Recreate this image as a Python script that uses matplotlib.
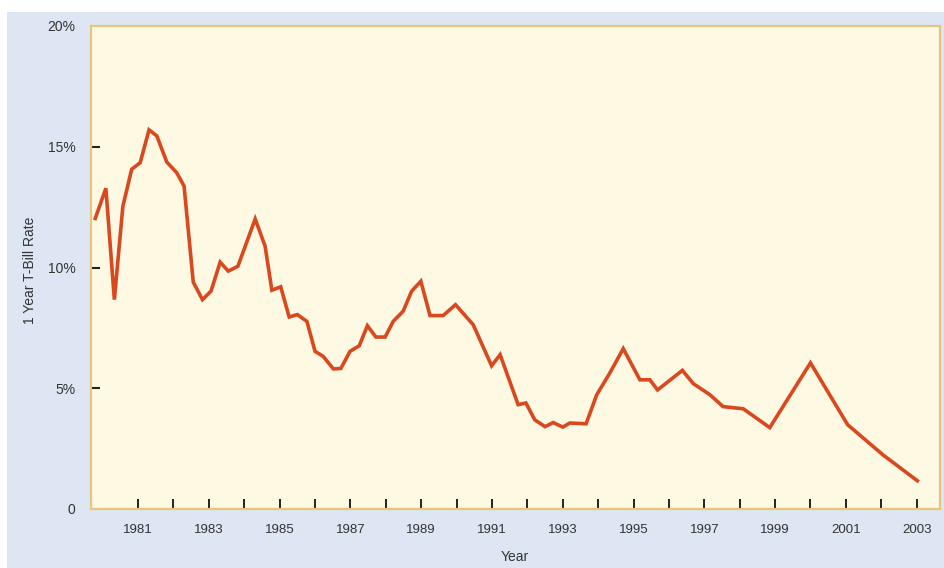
import matplotlib
matplotlib.use("Agg")
import matplotlib.pyplot as plt
from matplotlib.patches import Rectangle

plt.rcParams['font.family'] = ['Liberation Sans', 'DejaVu Sans']

years = [1979.79, 1980.09, 1980.33, 1980.57, 1980.82, 1981.06, 1981.31, 1981.53,
         1981.81, 1982.09, 1982.30, 1982.56, 1982.82, 1983.06, 1983.32, 1983.55,
         1983.82, 1984.31, 1984.59, 1984.78, 1985.03, 1985.27, 1985.50, 1985.77,
         1986.00, 1986.23, 1986.52, 1986.73, 1986.99, 1987.25, 1987.48, 1987.72,
         1987.98, 1988.21, 1988.49, 1988.73, 1988.99, 1989.25, 1989.62, 1989.97,
         1990.47, 1990.99, 1991.23, 1991.74, 1991.96, 1992.21, 1992.50, 1992.73,
         1993.00, 1993.20, 1993.66, 1993.96, 1994.33, 1994.71, 1995.18, 1995.46,
         1995.68, 1996.38, 1996.69, 1997.16, 1997.53, 1998.10, 1998.85, 2000.00,
         2001.05, 2002.05, 2003.02]
rates = [12.03, 13.28, 8.67, 12.53, 14.07, 14.34, 15.70, 15.45,
         14.37, 13.93, 13.37, 9.39, 8.67, 9.02, 10.22, 9.85,
         10.05, 12.01, 10.88, 9.06, 9.20, 7.95, 8.05, 7.77,
         6.53, 6.32, 5.80, 5.82, 6.53, 6.76, 7.59, 7.12,
         7.12, 7.77, 8.19, 9.02, 9.43, 8.01, 8.01, 8.46,
         7.63, 5.93, 6.39, 4.32, 4.39, 3.69, 3.41, 3.58,
         3.39, 3.56, 3.53, 4.73, 5.63, 6.64, 5.35, 5.35,
         4.93, 5.74, 5.19, 4.73, 4.24, 4.15, 3.37, 6.05,
         3.49, 2.24, 1.17]

xtick_major = list(range(1981, 2004, 2))
xtick_minor = list(range(1982, 2003, 2))
ytick_vals = [0, 5, 10, 15, 20]
ytick_labels = ['0', '5%', '10%', '15%', '20%']

W, H = 944, 568
fig = plt.figure(figsize=(W / 100, H / 100), dpi=100, facecolor='white')

# light-blue backdrop panel
bg = fig.add_axes([7 / W, 0, 1 - 7 / W, 1 - 12 / H], zorder=-5)
bg.set_facecolor('#dde6f2')
bg.set_xticks([])
bg.set_yticks([])
for s in bg.spines.values():
    s.set_visible(False)

ax = fig.add_axes([91 / W, 1 - 509 / H, (940 - 91) / W, (509 - 26) / H], zorder=1)
ax.set_facecolor('#fdf9e3')
for s in ax.spines.values():
    s.set_color('#e9c57a')
    s.set_linewidth(1.6)

ax.plot(years, rates, color='#d9481f', lw=2.6, solid_joinstyle='miter', zorder=3)

ax.set_xlim(1979.67, 2003.66)
ax.set_ylim(0, 20)

ax.set_xticks(xtick_major)
ax.set_xticklabels([str(y) for y in xtick_major])
ax.set_xticks(xtick_minor, minor=True)
ax.tick_params(axis='x', which='both', direction='in', length=7, width=1.4,
               color='#222222', pad=11, labelsize=9.5, labelcolor='#333333')

ax.set_yticks(ytick_vals)
ax.set_yticklabels(ytick_labels)
ax.tick_params(axis='y', which='both', direction='in', length=6.5, width=1.5,
               color='#222222', pad=11, labelsize=10, labelcolor='#333333')
yt = ax.yaxis.get_major_ticks()
yt[0].tick1line.set_visible(False)
yt[-1].tick1line.set_visible(False)

fig.text(515 / W, 1 - 557 / H, 'Year', ha='center', va='center',
         fontsize=10, color='#333333')
fig.text(30 / W, 1 - 270 / H, '1 Year T-Bill Rate', ha='center', va='center',
         rotation=90, fontsize=10, color='#333333')

fig.savefig('out.png', dpi=100, facecolor=fig.get_facecolor())
